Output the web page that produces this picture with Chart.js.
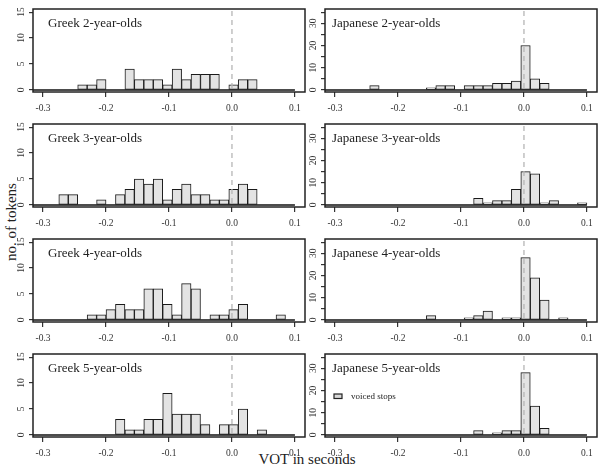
<!DOCTYPE html>
<html>
<head>
<meta charset="utf-8">
<script src="https://cdn.jsdelivr.net/npm/chart.js@4/dist/chart.umd.min.js"></script>
<style>
  html, body { margin: 0; padding: 0; background: #fff; }
  #wrap { position: relative; width: 604px; height: 472px; overflow: hidden; font-family: "Liberation Serif", serif; }
  canvas { position: absolute; }
  .axis-title { position: absolute; font-size: 15px; line-height: 1; color: #222; white-space: nowrap; }
  #yTitle { left: 11px; top: 222px; transform: translate(-50%, -50%) rotate(-90deg); }
  #xTitle { left: 307px; top: 452px; transform: translateX(-50%); }
</style>
</head>
<body>
<div id="wrap">
  <div class="axis-title" id="yTitle">no. of tokens</div>
  <div class="axis-title" id="xTitle">VOT in seconds</div>
</div>
<script>
'use strict';

// histogram bins (VOT in s), 0.015 s wide, given by their centres
const binCenters = [-0.2975, -0.2825, -0.2675, -0.2525, -0.2375, -0.2225, -0.2075, -0.1925, -0.1775,
  -0.1625, -0.1475, -0.1325, -0.1175, -0.1025, -0.0875, -0.0725, -0.0575, -0.0425, -0.0275, -0.0125,
  0.0025, 0.0175, 0.0325, 0.0475, 0.0625, 0.0775, 0.0925];

const xTicks = [-0.3, -0.2, -0.1, 0.0, 0.1];
const greekTicks = [0, 5, 10, 15];
const japanTicks = [0, 5, 10, 15, 20, 25, 30, 35];
const japanLabels = [0, 10, 20, 30];

// counts per bin
const greek2 = [0,0,0,0,1,1,2,0,0,4,2,2,2,1,4,2,3,3,3,0,1,2,2,0,0,0,0];
const greek3 = [0,0,2,2,0,0,1,0,2,3,5,4,5,1,3,4,2,2,1,1,3,4,3,0,0,0,0];
const greek4 = [0,0,0,0,0,1,1,2,3,2,2,6,6,3,1,7,6,0,1,1,2,3,0,0,0,1,0];
const greek5 = [0,0,0,0,0,0,0,0,3,1,1,3,3,8,4,4,4,2,0,2,2,5,0,1,0,0,0];
const japan2 = [0,0,0,0,2,0,0,0,0,0,1,2,2,0,2,2,2,3,3,4,20,5,3,0,0,0,0];
const japan3 = [0,0,0,0,0,0,0,0,0,0,0,0,0,0,0,3,1,2,2,7,15,14,1,2,0,0,1];
const japan4 = [0,0,0,0,0,0,0,0,0,0,2,0,0,0,1,2,4,0,1,1,28,19,9,0,1,0,0];
const japan5 = [0,0,0,0,0,0,0,0,0,0,0,0,0,0,0,2,0,1,2,2,28,13,3,0,0,0,0];

const greekTitles = ['Greek 2-year-olds', 'Greek 3-year-olds', 'Greek 4-year-olds', 'Greek 5-year-olds'];
const japanTitles = ['Japanese 2-year-olds', 'Japanese 3-year-olds', 'Japanese 4-year-olds', 'Japanese 5-year-olds'];
const legendLabel = 'voiced stops';

const FONT = 'Liberation Serif';

// column settings
const cols = [
  { left: 0, yMin: -0.4, yMax: 15.6, yTicks: greekTicks, yLabels: greekTicks, titleDx: 15 },
  { left: 292, yMin: -0.9, yMax: 36.4, yTicks: japanTicks, yLabels: japanLabels, titleDx: 7 }
];

const panels = [
  { col: 0, row: 0, title: greekTitles[0], counts: greek2 },
  { col: 1, row: 0, title: japanTitles[0], counts: japan2 },
  { col: 0, row: 1, title: greekTitles[1], counts: greek3 },
  { col: 1, row: 1, title: japanTitles[1], counts: japan3 },
  { col: 0, row: 2, title: greekTitles[2], counts: greek4 },
  { col: 1, row: 2, title: japanTitles[2], counts: japan4 },
  { col: 0, row: 3, title: greekTitles[3], counts: greek5 },
  { col: 1, row: 3, title: japanTitles[3], counts: japan5, legend: true }
];

// frame, zero line, dashed 0-line, panel title, legend
const deco = {
  id: 'deco',
  afterDatasetsDraw(chart, args, opts) {
    const { ctx, chartArea: a, scales: { x, y } } = chart;
    const x0 = x.getPixelForValue(0);
    const y0 = y.getPixelForValue(0);
    ctx.save();
    ctx.strokeStyle = '#b5b5b5';
    ctx.lineWidth = 1.3;
    ctx.setLineDash([5, 4]);
    ctx.beginPath();
    ctx.moveTo(x0, a.top + 2);
    ctx.lineTo(x0, y0);
    ctx.stroke();
    ctx.setLineDash([]);

    ctx.strokeStyle = '#111';
    ctx.lineWidth = 1.4;
    ctx.beginPath();
    ctx.moveTo(a.left, y0);
    ctx.lineTo(x.getPixelForValue(0.1), y0);
    ctx.stroke();

    ctx.strokeStyle = '#222';
    ctx.lineWidth = 1.5;
    ctx.strokeRect(a.left, a.top, a.right - a.left, a.bottom - a.top);

    ctx.fillStyle = '#222';
    ctx.font = '13px "' + FONT + '"';
    ctx.textBaseline = 'alphabetic';
    ctx.fillText(opts.title, a.left + opts.titleDx, a.top + 18);

    if (opts.legend) {
      ctx.fillStyle = '#d8d8d8';
      ctx.fillRect(a.left + 9, a.top + 40, 8, 4.5);
      ctx.lineWidth = 1.2;
      ctx.strokeRect(a.left + 9, a.top + 40, 8, 4.5);
      ctx.fillStyle = '#222';
      ctx.font = '9px "' + FONT + '"';
      ctx.textBaseline = 'middle';
      ctx.fillText(opts.legend, a.left + 26, a.top + 42.5);
    }
    ctx.restore();
  }
};

const wrap = document.getElementById('wrap');

panels.forEach(p => {
  const c = cols[p.col];
  const cv = document.createElement('canvas');
  cv.width = 310;
  cv.height = 115;
  cv.style.left = c.left + 'px';
  cv.style.top = (p.row * 115) + 'px';
  wrap.appendChild(cv);

  new Chart(cv, {
    type: 'bar',
    data: {
      datasets: [{
        label: legendLabel,
        data: binCenters.map((v, i) => ({ x: v, y: p.counts[i] })),
        backgroundColor: '#e3e3e3',
        borderColor: '#1a1a1a',
        borderWidth: 1,
        borderSkipped: false,
        barPercentage: 1,
        categoryPercentage: 1
      }]
    },
    options: {
      responsive: false,
      animation: false,
      events: [],
      layout: { padding: { top: 9, right: 5, left: 0, bottom: 0 } },
      plugins: {
        legend: { display: false },
        tooltip: { enabled: false },
        deco: { title: p.title, titleDx: c.titleDx, legend: p.legend ? legendLabel : null }
      },
      scales: {
        x: {
          type: 'linear',
          min: -0.316,
          max: 0.116,
          offset: false,
          afterFit: s => { s.height = 23; },
          afterBuildTicks: s => { s.ticks = xTicks.map(v => ({ value: v })); },
          border: { display: false },
          grid: { offset: false, drawOnChartArea: false, tickLength: 5, color: '#333', lineWidth: 1.2 },
          ticks: {
            autoSkip: false, maxRotation: 0, padding: 6, color: '#333',
            font: { family: FONT, size: 9.5 },
            callback: v => v.toFixed(1)
          }
        },
        y: {
          min: c.yMin,
          max: c.yMax,
          afterFit: s => { s.width = 33; },
          afterBuildTicks: s => { s.ticks = c.yTicks.map(v => ({ value: v })); },
          border: { display: false },
          grid: { drawOnChartArea: false, tickLength: 4, color: '#333', lineWidth: 1.2 },
          ticks: {
            autoSkip: false, minRotation: 90, maxRotation: 90, crossAlign: 'center', padding: 3,
            color: '#333', font: { family: FONT, size: 9.5 },
            callback: v => c.yLabels.includes(v) ? String(v) : ''
          }
        }
      }
    },
    plugins: [deco]
  });
});
</script>
</body>
</html>
